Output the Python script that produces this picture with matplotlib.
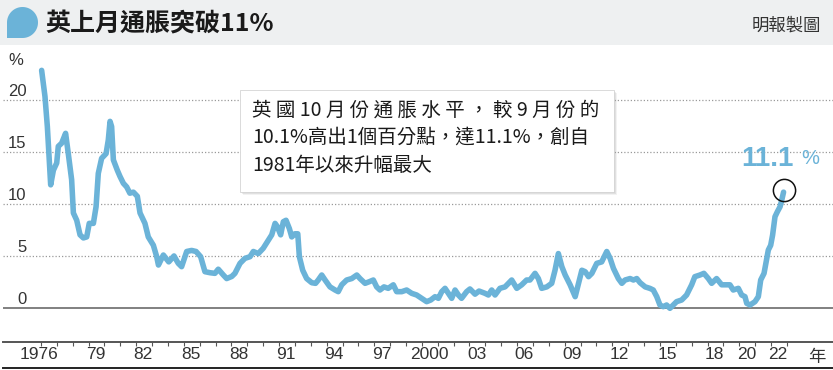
import numpy as np
import matplotlib
matplotlib.use("Agg")
import matplotlib.pyplot as plt
from matplotlib.patches import Rectangle, Polygon
from matplotlib.transforms import Affine2D, offset_copy
from matplotlib.lines import Line2D

# ---------------- data ----------------
dates = [1976.04, 1976.25, 1976.40, 1976.52, 1976.61, 1976.78, 1976.99, 1977.09, 1977.30, 1977.55,
         1977.72, 1977.93, 1978.04, 1978.25, 1978.46, 1978.67, 1978.88, 1979.04, 1979.30, 1979.47,
         1979.61, 1979.82, 1980.10, 1980.24, 1980.35, 1980.45, 1980.56, 1980.81, 1980.98, 1981.19,
         1981.40, 1981.60, 1981.82, 1982.07, 1982.24, 1982.55, 1982.76, 1983.08, 1983.29, 1983.40,
         1983.71, 1984.05, 1984.38, 1984.65, 1984.86, 1985.18, 1985.49, 1985.77, 1986.06, 1986.33,
         1986.65, 1986.96, 1987.17, 1987.49, 1987.70, 1988.02, 1988.22, 1988.54, 1988.85, 1989.17,
         1989.38, 1989.69, 1990.00, 1990.33, 1990.54, 1990.75, 1990.89, 1991.10, 1991.27, 1991.44,
         1991.65, 1991.80, 1992.00, 1992.18, 1992.28, 1992.49, 1992.74, 1993.06, 1993.30, 1993.47,
         1993.69, 1993.90, 1994.21, 1994.53, 1994.73, 1994.95, 1995.26, 1995.58, 1995.90, 1996.10,
         1996.42, 1996.69, 1996.94, 1997.15, 1997.36, 1997.61, 1997.88, 1998.20, 1998.41, 1998.73,
         1999.04, 1999.36, 1999.67, 1999.99, 2000.30, 2000.56, 2000.83, 2001.04, 2001.25, 2001.46,
         2001.67, 2001.88, 2002.09, 2002.30, 2002.50, 2002.82, 2003.03, 2003.35, 2003.60, 2003.98,
         2004.19, 2004.40, 2004.61, 2004.92, 2005.24, 2005.66, 2005.98, 2006.29, 2006.60, 2006.81,
         2007.13, 2007.34, 2007.55, 2007.87, 2008.18, 2008.39, 2008.60, 2008.82, 2009.03, 2009.34,
         2009.66, 2009.87, 2010.08, 2010.29, 2010.50, 2010.71, 2011.02, 2011.33, 2011.65, 2011.86,
         2012.07, 2012.38, 2012.60, 2012.80, 2013.12, 2013.33, 2013.54, 2013.75, 2014.07, 2014.38,
         2014.58, 2014.80, 2015.00, 2015.21, 2015.42, 2015.63, 2015.84, 2016.05, 2016.37, 2016.68,
         2017.00, 2017.20, 2017.52, 2017.77, 2018.05, 2018.26, 2018.57, 2018.89, 2019.20, 2019.41,
         2019.62, 2019.94, 2020.15, 2020.36, 2020.47, 2020.68, 2020.99, 2021.20, 2021.35, 2021.56,
         2021.73, 2021.83, 2021.98, 2022.10, 2022.25, 2022.40, 2022.57, 2022.67, 2022.79]
inflation = [22.8, 20.3, 17.4, 14.2, 11.8, 13.2, 13.9, 15.5, 15.8, 16.75,
             14.8, 12.3, 9.1, 8.4, 7.0, 6.7, 6.8, 8.1, 8.1, 9.7,
             12.9, 14.35, 14.8, 16.1, 17.9, 17.4, 14.2, 13.2, 12.6, 11.95,
             11.6, 11.0, 11.1, 10.7, 9.1, 8.1, 6.8, 6.0, 4.9, 4.1,
             5.06, 4.4, 4.97, 4.26, 3.94, 5.4, 5.5, 5.4, 4.9, 3.46,
             3.36, 3.3, 3.7, 3.14, 2.8, 3.0, 3.3, 4.26, 4.74, 4.9,
             5.4, 5.2, 5.7, 6.5, 7.0, 8.1, 7.8, 7.0, 8.26, 8.4,
             7.6, 6.8, 7.1, 7.1, 4.9, 3.6, 2.8, 2.4, 2.34, 2.66,
             3.14, 2.66, 2.0, 1.7, 1.54, 2.2, 2.66, 2.8, 3.14, 2.8,
             2.34, 2.5, 2.66, 2.0, 1.7, 2.0, 1.86, 2.2, 1.54, 1.54,
             1.7, 1.38, 1.22, 0.9, 0.58, 0.74, 1.06, 0.9, 1.54, 1.86,
             1.38, 0.9, 1.7, 1.22, 0.9, 1.54, 1.8, 1.3, 1.6, 1.38,
             1.22, 1.7, 1.22, 1.86, 2.0, 2.66, 1.86, 2.2, 2.66, 2.66,
             3.3, 2.8, 1.86, 2.0, 2.34, 3.6, 5.2, 3.94, 3.14, 2.2,
             1.06, 2.34, 3.6, 3.46, 2.98, 3.3, 4.26, 4.4, 5.4, 4.74,
             3.78, 2.8, 2.34, 2.66, 2.8, 2.66, 2.8, 2.4, 2.0, 1.85,
             1.7, 1.06, 0.26, 0.1, 0.26, -0.06, 0.26, 0.58, 0.74, 1.22,
             2.2, 2.98, 3.14, 3.3, 2.8, 2.34, 2.8, 2.2, 2.2, 2.2,
             1.7, 1.86, 1.22, 1.06, 0.42, 0.26, 0.58, 1.06, 2.66, 3.3,
             4.74, 5.54, 6.0, 6.98, 8.74, 9.22, 9.7, 10.3, 11.1]

ytick_values = [0, 5, 10, 15, 20]
year_ticks = list(range(1976, 2024))
xlabel_years = [1976, 1979, 1982, 1985, 1988, 1991, 1994, 1997, 2000, 2003, 2006, 2009,
                2012, 2015, 2018, 2020, 2022]
xlabel_text = ["1976", "79", "82", "85", "88", "91", "94", "97", "2000", "03", "06", "09",
               "12", "15", "18", "20", "22"]
title_text = "英上月通脹突破11%"
source_text = "明報製圖"
note_lines = ["英 國 10 月 份 通 脹 水 平 ， 較 9 月 份 的",
              "10.1%高出1個百分點，達11.1%，創自",
              "1981年以來升幅最大"]
latest_value_text = "11.1"
unit_text = "%"
year_unit = "年"

# ---------------- styling / layout ----------------
W, H = 833, 370
BLUE = "#6bb3d8"
CJK = ["Noto Sans CJK TC", "DejaVu Sans"]
LAT = ["Liberation Sans", "Noto Sans CJK TC", "DejaVu Sans"]

# pixel mapping used to size the axes
X0_PX, PX_PER_YEAR = 41.0, 15.87
Y0_PX, PX_PER_UNIT = 307.7, 10.41
AX_L, AX_R, AX_T, AX_B = 3.0, 833.0, 50.0, 342.3

def px2t(x):
    return 1976 + (x - X0_PX) / PX_PER_YEAR

def px2v(y):
    return (Y0_PX - y) / PX_PER_UNIT

fig = plt.figure(figsize=(W / 100, H / 100), dpi=100)
fig.patch.set_facecolor("white")
PX = Affine2D().scale(1 / 100, -1 / 100).translate(0, H / 100) + fig.dpi_scale_trans

# title bar
fig.add_artist(Rectangle((0, 0), W, 45, transform=PX, facecolor="#eef0f1",
                         edgecolor="none", zorder=0))
# icon: rounded drop with square bottom-left corner
cx, cy, r = 22.5, 22.5, 15.5
th = np.radians(np.linspace(180, -90, 60))
pts = np.column_stack([cx + r * np.cos(th), cy - r * np.sin(th)])
pts = np.vstack([pts, [cx - r, cy + r]])
fig.add_artist(Polygon(pts, closed=True, transform=PX, facecolor=BLUE,
                       edgecolor="none", zorder=1))
fig.text(45, 24, title_text, transform=PX, fontsize=18, fontweight="bold",
         family=CJK, color="#1a1a1a", va="center", ha="left")
fig.text(821, 26, source_text, transform=PX, fontsize=12.5, family=CJK,
         color="#333333", va="center", ha="right")

# axes
ax = fig.add_axes([AX_L / W, (H - AX_B) / H, (AX_R - AX_L) / W, (AX_B - AX_T) / H])
ax.set_facecolor("none")
ax.set_xlim(px2t(AX_L), px2t(AX_R))
ax.set_ylim(px2v(AX_B), px2v(AX_T))

for v in ytick_values:
    if v == 0:
        ax.axhline(v, color="#808080", lw=1.4, zorder=2)
    else:
        ax.axhline(v, color="#9a9a9a", lw=0.9, linestyle=(0, (1, 1.6)), zorder=1)
    tr = offset_copy(ax.get_yaxis_transform(), fig=fig, x=0, y=3.5, units="dots")
    ax.text((26.5 - AX_L) / (AX_R - AX_L), v, str(v), transform=tr, ha="right",
            va="baseline", fontsize=12, family=LAT, color="#333333")

fig.text(8, 65, unit_text, transform=PX, fontsize=12, family=LAT, color="#333333",
         va="baseline", ha="left")

ax.plot(dates, inflation, color=BLUE, lw=4.0, solid_joinstyle="round",
        solid_capstyle="round", zorder=3)
ax.plot(dates[-1], inflation[-1] + 0.25, marker="o", ms=16, mfc="none", mec="#111111",
        mew=1.1, zorder=4, clip_on=False)

# spines / ticks
for s in ["left", "right", "top"]:
    ax.spines[s].set_visible(False)
ax.spines["bottom"].set_color("#555555")
ax.spines["bottom"].set_linewidth(1.4)
ax.set_yticks([])
ax.set_xticks(year_ticks, minor=True)
label_pos = [y - 0.1 if y == 1976 else y + 0.45 for y in xlabel_years]
ax.set_xticks(label_pos)
ax.set_xticklabels(xlabel_text, fontsize=12.5, family=LAT, color="#333333")
ax.tick_params(axis="x", which="major", length=0, pad=3.6)
ax.tick_params(axis="x", which="minor", length=3.0, width=0.8, color="#555555",
               direction="out")
fig.text(817, 357, year_unit, transform=PX, fontsize=12.5, family=CJK, color="#333333",
         va="center", ha="center")

# bottom rule
fig.add_artist(Line2D([3, 833], [368, 368], transform=PX, color="#222222", lw=1.4))

# annotation box with shadow
bx, by, bw, bh = 240, 90, 374, 102
for k, a in [(3, 0.05), (2, 0.07), (1, 0.09)]:
    fig.add_artist(Rectangle((bx + k, by + k), bw, bh, transform=PX, facecolor="black",
                             alpha=a, edgecolor="none", zorder=5))
fig.add_artist(Rectangle((bx, by), bw, bh, transform=PX, facecolor="white",
                         edgecolor="#d4d4d4", lw=0.6, zorder=6))
for i, line in enumerate(note_lines):
    fig.text(252, 110 + 27.5 * i, line, transform=PX, fontsize=14, family=CJK,
             color="#1a1a1a", va="center", ha="left", zorder=7)

# latest value label
fig.text(741, 166.5, latest_value_text, transform=PX, fontsize=20, fontweight="bold",
         family=LAT, color=BLUE, va="baseline", ha="left")
fig.text(801, 163.5, unit_text, transform=PX, fontsize=14.5, family=LAT, color=BLUE,
         va="baseline", ha="left")

fig.savefig("out.png", dpi=100)
